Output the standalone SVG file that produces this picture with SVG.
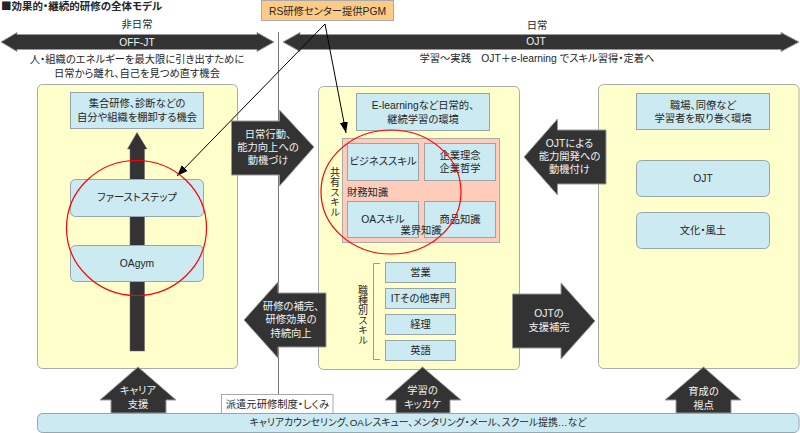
<svg xmlns="http://www.w3.org/2000/svg" width="800" height="433" viewBox="0 0 800 433">
<style>
text{font-family:"Liberation Sans","Noto Sans CJK JP",sans-serif;font-size:10.300px;fill:#262626;text-anchor:middle;font-feature-settings:"palt"}
.w{fill:#f2f2f2}
.l{text-anchor:start}
.v{writing-mode:vertical-rl;text-anchor:start;font-feature-settings:normal;font-size:10px;font-family:"Noto Sans CJK JP",sans-serif}
.panel{fill:#ffffcc;stroke:#aaa}
.box{fill:#cbeaf2;stroke:#99a5a8}
.dark{fill:#333;stroke:#999;stroke-width:1}
.red{fill:none;stroke:#f00;stroke-width:1.2}
.ln{fill:none;stroke:#000;stroke-width:1;marker-end:url(#ah)}
</style>
<defs><marker id="ah" markerWidth="12" markerHeight="12" refX="11" refY="4" orient="auto" markerUnits="userSpaceOnUse"><path d="M0 0L11 4L0 8z" fill="#000"/></marker></defs>
<rect width="800" height="433" fill="#fff"/>
<text class="l" x="1" y="10" style="font-weight:700;font-size:10.500px"><tspan style="font-family:'Noto Sans CJK JP',sans-serif;font-feature-settings:normal">■</tspan>効果的・継続的研修の全体モデル</text>
<g id="divider"><path d="M278.500 32V394" stroke="#777" fill="none"/></g>
<g id="offjt">
<text x="137" y="28">非日常</text>
<path class="dark" d="M1 42L17 32.500V34.500H257V32.500L274 42L257 51.500V49.500H17V51.500Z"/>
<text class="w" x="137" y="46">OFF-JT</text>
<text x="137" y="63">人・組織のエネルギーを最大限に引き出すために</text>
<text x="137" y="77">日常から離れ、自己を見つめ直す機会</text>
</g>
<g id="ojt">
<text x="537" y="29">日常</text>
<path class="dark" d="M283 42L300 32.500V34.500H781V32.500L799 42L781 51.500V49.500H300V51.500Z"/>
<text class="w" x="536" y="45">OJT</text>
<text x="537" y="62">学習～実践　OJT＋e-learning でスキル習得・定着へ</text>
</g>
<g id="panel-left"><rect class="panel" x="37.500" y="84.500" width="200" height="284" rx="5"/></g>
<g id="panel-middle"><rect class="panel" x="318.500" y="86.500" width="201" height="283" rx="5"/></g>
<g id="panel-right"><rect class="panel" x="598.500" y="84.500" width="200.500" height="284" rx="5"/></g>
<g id="growth-arrow"><path fill="#333" stroke="#666" stroke-width=".5" d="M130 351V149H127.500L137 132.500L147 149H144.500V351Z"/></g>
<g id="n-shugo"><rect class="box" x="70.500" y="92.500" width="133" height="36"/><text x="137" y="107">集合研修、診断などの</text><text x="137" y="121">自分や組織を棚卸する機会</text></g>
<g id="n-first"><rect class="box" x="70.500" y="179.500" width="133" height="37" rx="5"/><text x="137" y="201">ファーストステップ</text></g>
<g id="n-oagym"><rect class="box" x="70.500" y="245.500" width="133" height="36" rx="5"/><text x="137" y="267">OAgym</text></g>
<g id="n-elearning"><rect class="box" x="356.500" y="93.500" width="133" height="37"/><text x="423" y="109">E-learningなど日常的、</text><text x="423" y="123">継続学習の環境</text></g>
<g id="n-shared">
<rect x="342.500" y="138.500" width="157" height="104" fill="#ffccbb" stroke="#aaa"/>
<text class="v" x="335" y="167">共有スキル</text>
<rect class="box" x="347.500" y="143.500" width="71" height="37"/><text x="383" y="165">ビジネススキル</text>
<rect class="box" x="424.500" y="143.500" width="71" height="37"/><text x="460" y="159">企業理念</text><text x="460" y="172">企業哲学</text>
<text class="l" x="347" y="196">財務知識</text>
<rect class="box" x="347.500" y="201.500" width="71" height="36"/><text x="383" y="223">OAスキル</text>
<rect class="box" x="424.500" y="201.500" width="71" height="36"/><text x="460" y="223">商品知識</text>
<text x="421" y="234">業界知識</text>
</g>
<g id="n-job">
<path d="M380 263.500H373.500V359.500H380" fill="none" stroke="#999"/>
<text class="v" x="363" y="285">職種別スキル</text>
<rect class="box" x="385.500" y="262.500" width="70" height="20"/><text x="420.500" y="276">営業</text>
<rect class="box" x="385.500" y="288.500" width="70" height="20"/><text x="420.500" y="302">ITその他専門</text>
<rect class="box" x="385.500" y="314.500" width="70" height="20"/><text x="420.500" y="328">経理</text>
<rect class="box" x="385.500" y="340.500" width="70" height="20"/><text x="420.500" y="354">英語</text>
</g>
<g id="n-shokuba"><rect class="box" x="636.500" y="93.500" width="133" height="36"/><text x="703" y="109">職場、同僚など</text><text x="703" y="122">学習者を取り巻く環境</text></g>
<g id="n-ojt"><rect class="box" x="636.500" y="160.500" width="133" height="36" rx="5"/><text x="703" y="182">OJT</text></g>
<g id="n-bunka"><rect class="box" x="636.500" y="212.500" width="133" height="36" rx="5"/><text x="703" y="234">文化・風土</text></g>
<g id="a-doki"><path class="dark" d="M231.500 121H279.500V110L314 147L279.500 186V175H231.500Z"/><text class="w" x="268" y="138">日常行動、</text><text class="w" x="268" y="151">能力向上への</text><text class="w" x="268" y="164">動機づけ</text></g>
<g id="a-kaihatsu"><path class="dark" d="M606 130H557.500V119L524 157L557.500 195V184H606Z"/><text class="w" x="569.500" y="147">OJTによる</text><text class="w" x="569.500" y="160">能力開発への</text><text class="w" x="569.500" y="173">動機付け</text></g>
<g id="a-hokan"><path class="dark" d="M326 293H278V282L244 320L278 358V347H326Z"/><text class="w" x="291" y="310">研修の補完、</text><text class="w" x="291" y="323">研修効果の</text><text class="w" x="291" y="337">持続向上</text></g>
<g id="a-shien"><path class="dark" d="M512.500 294H561V283L595 321L561 359V348H512.500Z"/><text class="w" x="549" y="317">OJTの</text><text class="w" x="549" y="331">支援補完</text></g>
<g id="a-career"><path class="dark" d="M111 413V400H100L138 367L176 400H166V413Z"/><text class="w" x="138" y="394">キャリア</text><text class="w" x="138" y="408">支援</text></g>
<g id="a-gakushu"><path class="dark" d="M396 413V400H385L422.500 367L461 400H450V413Z"/><text class="w" x="422.500" y="394">学習の</text><text class="w" x="422.500" y="408">キッカケ</text></g>
<g id="a-ikusei"><path class="dark" d="M676 413V400H665L703.500 367L741 400H731V413Z"/><text class="w" x="703.500" y="395">育成の</text><text class="w" x="703.500" y="409">視点</text></g>
<g id="n-haken"><rect x="221.500" y="394.500" width="111.500" height="19" fill="#fff" stroke="#aaa"/><text x="277.500" y="408">派遣元研修制度・しくみ</text></g>
<g id="n-bottom"><rect class="box" x="37.500" y="413.500" width="761.500" height="19" rx="5"/><text x="418" y="426" style="font-size:9.800px">キャリアカウンセリング、OAレスキュー、メンタリング・メール、スクール提携…など</text></g>
<g id="n-rs"><rect x="261.500" y="0.500" width="132" height="20" fill="#fdcb85" stroke="#aaa"/><text x="327.500" y="15">RS研修センター提供PGM</text></g>
<g id="connectors">
<path class="ln" d="M325 24L177 176"/>
<path class="ln" d="M325 24L346 133"/>
</g>
<g id="highlights">
<ellipse class="red" cx="136.500" cy="228" rx="70" ry="67.500"/>
<ellipse class="red" cx="391" cy="192" rx="70" ry="62"/>
</g>
</svg>
